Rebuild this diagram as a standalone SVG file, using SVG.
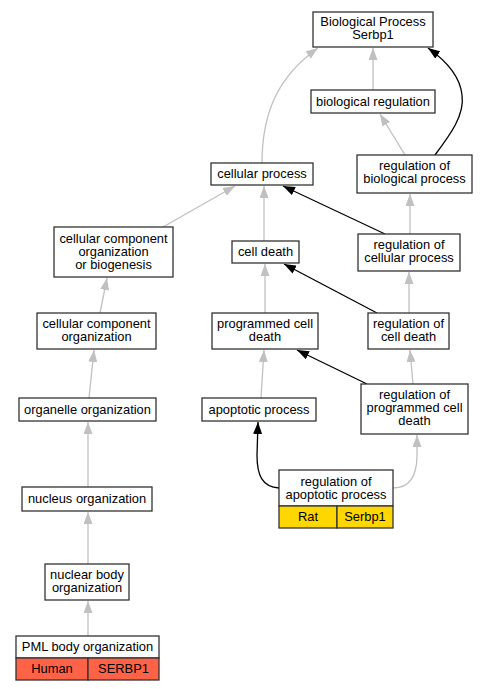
<svg xmlns="http://www.w3.org/2000/svg" width="488" height="691" viewBox="0 0 488 691">
<style>
.box{fill:#fff;stroke:#333;stroke-width:1.3}
.t{font-family:"Liberation Sans",Arial,sans-serif;font-size:12.9px;text-anchor:middle;fill:#000}
.g{fill:none;stroke:#c0c0c0;stroke-width:1.3}
.k{fill:none;stroke:#000;stroke-width:1.3}
</style>
<defs>
<marker id="ag" markerUnits="userSpaceOnUse" markerWidth="12" markerHeight="9" refX="12" refY="4.5" orient="auto"><path d="M0,0 L12,4.5 L0,9 z" fill="#c0c0c0"/></marker>
<marker id="ak" markerUnits="userSpaceOnUse" markerWidth="12" markerHeight="9" refX="12" refY="4.5" orient="auto"><path d="M0,0 L12,4.5 L0,9 z" fill="#000"/></marker>
</defs>
<rect width="488" height="691" fill="#fff"/>
<g id="edges">
<path class="g" marker-end="url(#ag)" d="M262,163 C262,110 280,75 318,48"/>
<path class="g" marker-end="url(#ag)" d="M373,90 L373,48"/>
<path class="g" marker-end="url(#ag)" d="M405,155 L380,114"/>
<path class="k" marker-end="url(#ak)" d="M435,155 C450,135 465,115 462,95 C460,75 445,60 428,48"/>
<path class="g" marker-end="url(#ag)" d="M163,227 L235,186"/>
<path class="g" marker-end="url(#ag)" d="M264,241 L264,186"/>
<path class="k" marker-end="url(#ak)" d="M385,234 L283,186"/>
<path class="g" marker-end="url(#ag)" d="M410,234 L410,194"/>
<path class="g" marker-end="url(#ag)" d="M265,313 L265,264"/>
<path class="k" marker-end="url(#ak)" d="M377,313 L284,264"/>
<path class="g" marker-end="url(#ag)" d="M409,313 L409,272"/>
<path class="g" marker-end="url(#ag)" d="M261,398 L264,350"/>
<path class="k" marker-end="url(#ak)" d="M367,384 L297,350"/>
<path class="g" marker-end="url(#ag)" d="M413,384 L410,350"/>
<path class="k" marker-end="url(#ak)" d="M279,488 C262,487 257,475 257,455 L258,422"/>
<path class="g" marker-end="url(#ag)" d="M393,488 C410,488 417,475 417,455 L417,435"/>
<path class="g" marker-end="url(#ag)" d="M100,313 L107,278"/>
<path class="g" marker-end="url(#ag)" d="M89,398 L94,350"/>
<path class="g" marker-end="url(#ag)" d="M88,487 L88,422"/>
<path class="g" marker-end="url(#ag)" d="M88,564 L88,512"/>
<path class="g" marker-end="url(#ag)" d="M88,636 L88,601"/>
</g>
<g id="n1"><rect class="box" x="313" y="12" width="120" height="35"/><text class="t" x="373" y="26">Biological Process</text><text class="t" x="373" y="39">Serbp1</text></g>
<g id="n2"><rect class="box" x="311" y="90" width="124" height="23"/><text class="t" x="373" y="106">biological regulation</text></g>
<g id="n3"><rect class="box" x="357" y="155" width="115" height="38"/><text class="t" x="414.5" y="170">regulation of</text><text class="t" x="414.5" y="183">biological process</text></g>
<g id="n4"><rect class="box" x="211" y="163" width="102" height="22"/><text class="t" x="262" y="178">cellular process</text></g>
<g id="n5"><rect class="box" x="232" y="241" width="67" height="22"/><text class="t" x="265.5" y="256">cell death</text></g>
<g id="n6"><rect class="box" x="358" y="234" width="102" height="37"/><text class="t" x="409" y="249">regulation of</text><text class="t" x="409" y="262">cellular process</text></g>
<g id="n7"><rect class="box" x="212" y="313" width="106" height="36"/><text class="t" x="265" y="327.5">programmed cell</text><text class="t" x="265" y="340.5">death</text></g>
<g id="n8"><rect class="box" x="368" y="313" width="81" height="36"/><text class="t" x="408.5" y="327.5">regulation of</text><text class="t" x="408.5" y="340.5">cell death</text></g>
<g id="n9"><rect class="box" x="202" y="398" width="114" height="23"/><text class="t" x="259" y="413.5">apoptotic process</text></g>
<g id="n10"><rect class="box" x="361" y="384" width="107" height="50"/><text class="t" x="414.5" y="399">regulation of</text><text class="t" x="414.5" y="412">programmed cell</text><text class="t" x="414.5" y="425">death</text></g>
<g id="n11"><rect class="box" x="279" y="470" width="114" height="36"/><text class="t" x="336" y="485.5">regulation of</text><text class="t" x="336" y="498.5">apoptotic process</text>
<rect x="279" y="506" width="58" height="22" fill="#ffd700" stroke="#333" stroke-width="1.3"/><rect x="337" y="506" width="56" height="22" fill="#ffd700" stroke="#333" stroke-width="1.3"/><text class="t" x="308" y="521">Rat</text><text class="t" x="365" y="521">Serbp1</text></g>
<g id="n12"><rect class="box" x="54" y="227" width="119" height="50"/><text class="t" x="113.5" y="242.5">cellular component</text><text class="t" x="113.5" y="255.5">organization</text><text class="t" x="113.5" y="268.5">or biogenesis</text></g>
<g id="n13"><rect class="box" x="37" y="313" width="119" height="36"/><text class="t" x="96.5" y="327.5">cellular component</text><text class="t" x="96.5" y="340.5">organization</text></g>
<g id="n14"><rect class="box" x="19" y="398" width="137" height="23"/><text class="t" x="87.5" y="413.5">organelle organization</text></g>
<g id="n15"><rect class="box" x="22" y="487" width="130" height="24"/><text class="t" x="87" y="502.5">nucleus organization</text></g>
<g id="n16"><rect class="box" x="45" y="564" width="84" height="36"/><text class="t" x="87" y="578.5">nuclear body</text><text class="t" x="87" y="591.5">organization</text></g>
<g id="n17"><rect class="box" x="16" y="636" width="143" height="22"/><text class="t" x="87.5" y="651">PML body organization</text>
<rect x="16" y="658" width="72" height="22" fill="#ff6347" stroke="#333" stroke-width="1.3"/><rect x="88" y="658" width="71" height="22" fill="#ff6347" stroke="#333" stroke-width="1.3"/><text class="t" x="52" y="673">Human</text><text class="t" x="123.5" y="673">SERBP1</text></g>
</svg>
